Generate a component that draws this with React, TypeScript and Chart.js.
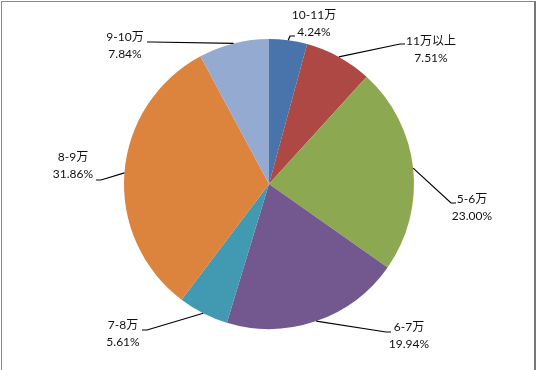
import React, { useEffect, useRef } from "react";
import { Chart, registerables } from "chart.js";

Chart.register(...registerables);

const categories = ["10-11万", "11万以上", "5-6万", "6-7万", "7-8万", "8-9万", "9-10万"];
const shares = [4.24, 7.51, 23.0, 19.94, 5.61, 31.86, 7.84];
const colors = ["#4874AB", "#AD4845", "#8CA850", "#73588F", "#4299B2", "#DC833E", "#94AAD0"];

// label layout (offsets from pie centre, px): block centre and leader end point
const labelLayout = [
  { bx: 45, by: -160, ex: 26, ey: -148, side: 1 },
  { bx: 162, by: -134, ex: 136, ey: -140, side: 1 },
  { bx: 203, by: 24, ex: 187, ey: 19, side: 1 },
  { bx: 140, by: 152, ex: 122, ey: 148, side: 1 },
  { bx: -146, by: 150, ex: -127, ey: 146, side: -1 },
  { bx: -196, by: -18, ex: -173, ey: -4, side: -1 },
  { bx: -144, by: -138, ex: -122, ey: -142, side: -1 },
];

const labelPlugin = {
  id: "pieLabels",
  afterDatasetsDraw(chart: any) {
    const meta = chart.getDatasetMeta(0);
    const ctx = chart.ctx;
    ctx.save();
    meta.data.forEach((arc: any, i: number) => {
      const { x, y, startAngle, endAngle, outerRadius } = arc.getProps(
        ["x", "y", "startAngle", "endAngle", "outerRadius"],
        true
      );
      const mid = (startAngle + endAngle) / 2;
      const sx = x + Math.cos(mid) * outerRadius;
      const sy = y + Math.sin(mid) * outerRadius;
      const L = labelLayout[i];
      const ex = x + L.ex;
      const ey = y + L.ey;
      const elx = ex - 5 * L.side;
      ctx.strokeStyle = "#000";
      ctx.lineWidth = 1.2;
      ctx.beginPath();
      ctx.moveTo(sx, sy);
      ctx.lineTo(elx, ey);
      ctx.lineTo(ex, ey);
      ctx.stroke();
      ctx.fillStyle = "#111";
      ctx.font = '12px Lato, "Noto Sans CJK SC", sans-serif';
      ctx.textAlign = "center";
      ctx.textBaseline = "middle";
      const bx = x + L.bx;
      const by = y + L.by;
      ctx.fillText(categories[i], bx, by - 8.5);
      ctx.fillText(shares[i].toFixed(2) + "%", bx, by + 8.5);
    });
    ctx.restore();
  },
};

export default function App() {
  const ref = useRef<HTMLCanvasElement>(null);
  useEffect(() => {
    if (!ref.current) return;
    const chart = new Chart(ref.current, {
      type: "pie",
      data: {
        labels: categories,
        datasets: [
          {
            data: shares,
            backgroundColor: colors,
            borderWidth: 0,
          },
        ],
      },
      options: {
        responsive: false,
        animation: false,
        layout: { padding: { top: 39, bottom: 41, left: 124, right: 123 } },
        plugins: {
          legend: { display: false },
          tooltip: { enabled: false },
        },
      },
      plugins: [labelPlugin],
    });
    return () => chart.destroy();
  }, []);
  return (
    <div style={{ position: "fixed", left: 0, top: 0, width: 537, height: 370, background: "#fff", overflow: "hidden" }}>
      <canvas ref={ref} width={537} height={370} style={{ position: "absolute", left: 0, top: 0 }} />
      <div
        style={{
          position: "absolute",
          left: 1,
          top: 1,
          width: 532,
          height: 400,
          borderLeft: "1px solid #8a8a8a",
          borderTop: "1px solid #8a8a8a",
          borderRight: "2px solid #777",
          boxSizing: "content-box",
          pointerEvents: "none",
        }}
      />
    </div>
  );
}
